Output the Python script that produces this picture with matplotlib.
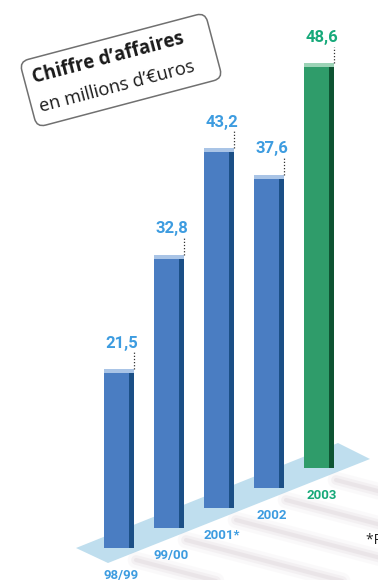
import matplotlib
matplotlib.use('Agg')
import matplotlib.pyplot as plt
from matplotlib.patches import FancyBboxPatch, Polygon
from matplotlib.transforms import Affine2D
from matplotlib import font_manager as fm
import numpy as np

# ---- data ----
categories = ['98/99', '99/00', '2001*', '2002', '2003']
values = [21.5, 32.8, 43.2, 37.6, 48.6]
value_labels = ['21,5', '32,8', '43,2', '37,6', '48,6']
title1 = 'Chiffre d’affaires'
title2 = 'en millions d’€uros'
footnote = '*Pro forma'

W, H = 378, 580
PXU = 8.33         # pixels per value unit
STEP = 20 / PXU    # base rise per bar (pseudo 3D perspective)

fig = plt.figure(figsize=(W / 100, H / 100), dpi=100)
fig.patch.set_facecolor('white')

num_fp = fm.FontProperties(family='Roboto', weight='bold')

# ---- decoration axes in pixel coordinates ----
axd = fig.add_axes([0, 0, 1, 1], zorder=0)
axd.set_xlim(0, W)
axd.set_ylim(0, H)
axd.axis('off')

renderer = fig.canvas.get_renderer()


def fit_size(s, fp, target):
    t = axd.text(0, 0, s, fontproperties=fp, fontsize=10)
    w = t.get_window_extent(renderer).width
    t.remove()
    return 10 * target / w


def P(x, y):
    return (x, H - y)


# shadows
for i in range(len(values)):
    bx = 134 + 50 * i
    by = 552 - 20 * i
    x0, y0 = bx + 2, by + 8
    x1, y1 = x0 + 160, y0 + 42
    for lw, a in [(12, 0.08), (7, 0.14), (3, 0.2)]:
        axd.plot([x0, x1], [H - y0, H - y1], color='#c9bcc4', lw=lw, alpha=a,
                 solid_capstyle='round')

# floor
floor = Polygon([P(76, 548), P(338, 443), P(370, 459), P(108, 563)], closed=True,
                fc='#bfdeee', ec='none')
axd.add_patch(floor)

# title box
cx, cy = 121, 70
ang = 14.8
tr = Affine2D().rotate_deg_around(cx, H - cy, ang) + axd.transData
box = FancyBboxPatch((cx - 96, H - cy - 34), 192, 68,
                     boxstyle='round,pad=0,rounding_size=9',
                     fc='white', ec='#707070', lw=1.1, transform=tr)
axd.add_patch(box)
fp1 = fm.FontProperties(family='Open Sans', weight='bold')
fp2 = fm.FontProperties(family='Open Sans')
axd.text(34, H - 83, title1, fontproperties=fp1, fontsize=fit_size(title1, fp1, 156),
         color='#1a1a1a', rotation=ang, rotation_mode='anchor',
         ha='left', va='baseline')
axd.text(41, H - 112, title2, fontproperties=fp2, fontsize=fit_size(title2, fp2, 160),
         color='#1a1a1a', rotation=ang, rotation_mode='anchor',
         ha='left', va='baseline')

axd.text(366, H - 540, footnote, fontproperties=fp2, fontsize=10,
         color='#222222', ha='left', va='center')

# ---- main chart axes ----
ax = fig.add_axes([0, 0, 1, 1], zorder=1)
ax.patch.set_alpha(0)
ax.set_xlim(-119 / 50, (W - 119) / 50)
ax.set_ylim((548 - H) / PXU, 548 / PXU)
ax.axis('off')

x = np.arange(len(values))
bases = x * STEP
main_cols = ['#4a7dc2'] * 4 + ['#2f9c6a']
dark_cols = ['#1b4f86'] * 4 + ['#0e5432']
top_cols = ['#a9c4e6'] * 4 + ['#9cd3b6']
lab_cols = ['#3d9ce0'] * 4 + ['#17a97a']

BW = 0.6
ax.bar(x, values, width=BW, bottom=bases, color=main_cols, zorder=2)
ax.bar(x + BW / 2 - 0.055, values, width=0.11, bottom=bases, color=dark_cols, zorder=3)
ax.bar(x, [0.45] * len(values), width=BW, bottom=bases + np.array(values) - 0.45,
       color=top_cols, zorder=3)

for i, v in enumerate(values):
    top = bases[i] + v
    ax.plot([x[i] + BW / 2, x[i] + BW / 2], [top, top + 2.0], color='#333333',
            lw=0.9, ls=(0, (1, 1.5)), zorder=4)
    ax.text(x[i] + 0.06, top + 2.2, value_labels[i], fontproperties=num_fp,
            fontsize=12, color=lab_cols[i], ha='center', va='bottom',
            zorder=5)
    ax.text(x[i] + 0.05, bases[i] - 3.3, categories[i], fontproperties=num_fp,
            fontsize=9.5, color=lab_cols[i], ha='center', va='center',
            zorder=5)

fig.savefig('out.png', dpi=100, facecolor='white')
